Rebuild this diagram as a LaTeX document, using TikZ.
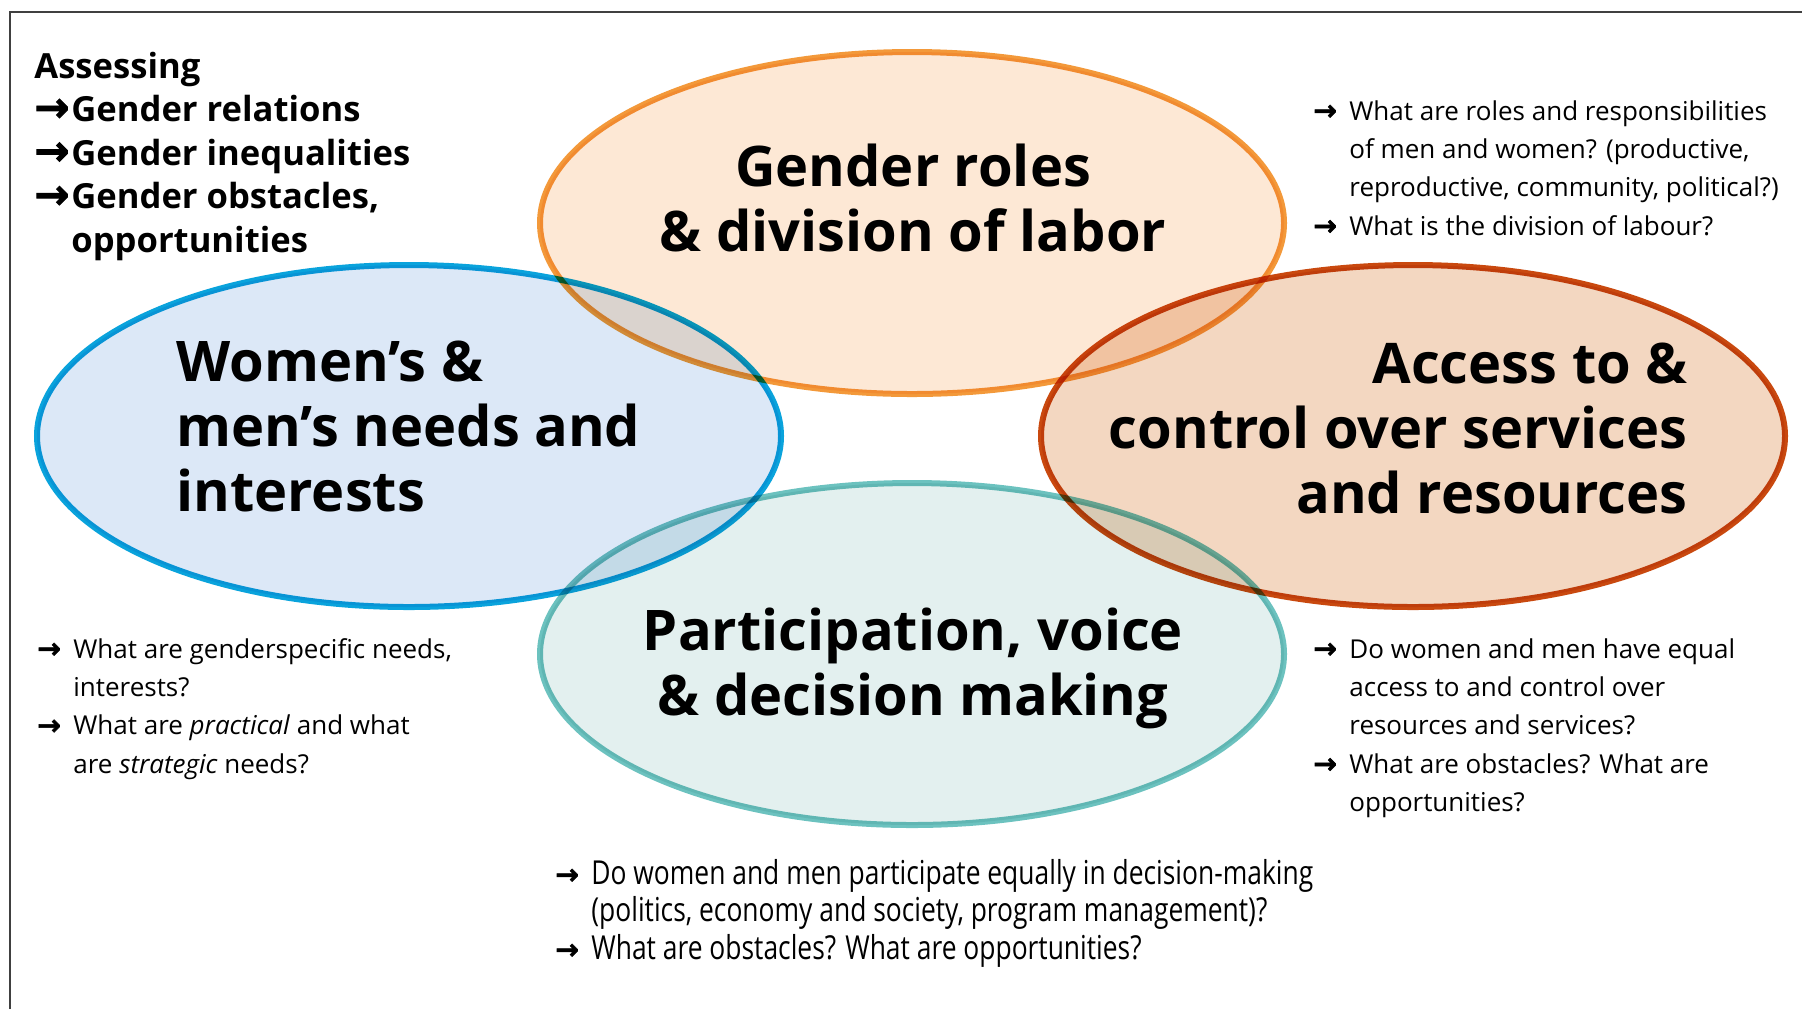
\documentclass[tikz,border=0pt]{standalone}
\usepackage{fontspec}
\setmainfont{Open Sans}
\newfontfamily\arrowfont[FakeBold=2]{DejaVu Sans}
\newfontfamily\condfont[FakeStretch=0.8]{Open Sans}

\definecolor{orangeline}{HTML}{F3993A}
\definecolor{orangefill}{HTML}{FDE8D5}
\definecolor{blueline}{HTML}{0AA3DC}
\definecolor{bluefill}{HTML}{DCE8F7}
\definecolor{redline}{HTML}{C9490F}
\definecolor{redfill}{HTML}{F3D7C1}
\definecolor{tealline}{HTML}{6CC2BF}
\definecolor{tealfill}{HTML}{E3F0EF}

% arrow in front of a question (small) and of a topic (bold)
\newcommand\qa{\makebox[18pt][l]{\fontsize{14}{14}\arrowfont\bfseries →}}
\newcommand\ba{\makebox[18.5pt][l]{\fontsize{21}{21}\arrowfont\bfseries →}}

\begin{document}
\begin{tikzpicture}[x=0.5pt,y=-0.5pt,
  bubble/.style={line width=3pt,draw=#1line,fill=#1fill},
  title/.style={font=\fontsize{28}{32.5}\selectfont\bfseries,inner sep=0pt,anchor=base},
  qtext/.style={font=\fontsize{13}{19.2}\selectfont,inner sep=0pt,anchor=base west}]
\useasboundingbox (0,0) rectangle (1802,1009);
\draw[line width=1.1pt,black!75] (10,1009) -- (10,12) -- (1802,12);

\begin{scope}[blend group=multiply]
  \foreach \c/\x/\y in {orange/912/223, blue/409/436, red/1413/436, teal/912/654}
    \draw[bubble=\c] (\x,\y) ellipse [x radius=372, y radius=171];
\end{scope}

% titles
\node[title] (roles) at (913,186)
  {\begin{tabular}[t]{@{}c@{}}Gender roles\\ \& division of labor\end{tabular}};
\node[title,anchor=base west] (needs) at (176,381)
  {\begin{tabular}[t]{@{}l@{}}Women’s \&\\ men’s needs and\\ interests\end{tabular}};
\node[title,anchor=base east] (access) at (1688,383)
  {\begin{tabular}[t]{@{}r@{}}Access to \&\\ control over services\\ and resources\end{tabular}};
\node[title] (voice) at (913,650)
  {\begin{tabular}[t]{@{}c@{}}Participation, voice\\ \& decision making\end{tabular}};

\node[font=\fontsize{17.3}{21.8}\selectfont\bfseries,inner sep=0pt,anchor=base west] (assess) at (34,78)
  {\begin{tabular}[t]{@{}l@{}l@{}}
    \multicolumn{2}{@{}l@{}}{Assessing}\\
    \ba & Gender relations\\
    \ba & Gender inequalities\\
    \ba & Gender obstacles,\\
        & opportunities
  \end{tabular}};

% questions
\node[qtext] (rolesq) at (1313,120)
  {\begin{tabular}[t]{@{}l@{}l@{}}
    \qa & What are roles and responsibilities\\
        & of men and women? (productive,\\
        & reproductive, community, political?)\\
    \qa & What is the division of labour?
  \end{tabular}};
\node[qtext] (needsq) at (37,658)
  {\begin{tabular}[t]{@{}l@{}l@{}}
    \qa & What are genderspecific needs,\\
        & interests?\\
    \qa & What are \textit{practical} and what\\
        & are \textit{strategic} needs?
  \end{tabular}};
\node[qtext] (accessq) at (1313,658)
  {\begin{tabular}[t]{@{}l@{}l@{}}
    \qa & Do women and men have equal\\
        & access to and control over\\
        & resources and services?\\
    \qa & What are obstacles? What are\\
        & opportunities?
  \end{tabular}};
\node[qtext,font=\fontsize{16.5}{18.75}\selectfont\condfont] (voiceq) at (555,884)
  {\begin{tabular}[t]{@{}l@{}l@{}}
    \qa & Do women and men participate equally in decision-making\\
        & (politics, economy and society, program management)?\\
    \qa & What are obstacles? What are opportunities?
  \end{tabular}};
\end{tikzpicture}
\end{document}
